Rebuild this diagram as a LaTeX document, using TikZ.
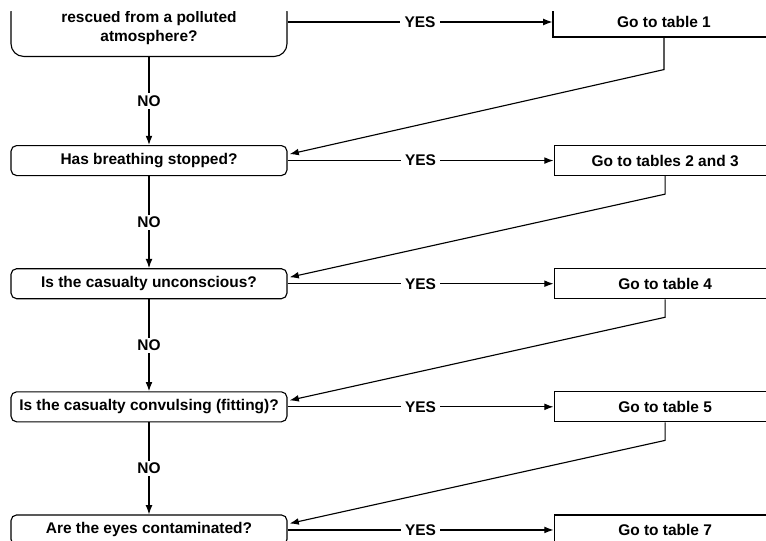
\documentclass[tikz,border=0pt]{standalone}
\usepackage{fontspec}
\setmainfont{Liberation Sans}
\usetikzlibrary{arrows.meta, positioning}

\begin{document}
\begin{tikzpicture}[
    node distance=2.3cm and 6.65cm,
    font=\fontsize{11}{13.5}\selectfont\bfseries,
    line width=0.8pt,
    qbox/.style={draw, rounded corners=4pt, minimum width=6.9cm, minimum height=0.75cm, align=center, inner sep=2pt},
    gobox/.style={draw, minimum width=5.55cm, minimum height=0.75cm, align=center},
    lbl/.style={fill=white, inner xsep=3pt, inner ysep=1.5pt},
    arr/.style={-{Latex[length=2.3mm, width=1.7mm]}}
]
\useasboundingbox (0,0) rectangle (19.15,-13.5);
\clip (0,-0.28) rectangle (19.15,-13.5);

\node[qbox, rounded corners=9pt, anchor=south, inner ysep=0.3cm] (atmos) at (3.725,-1.425) {rescued from a polluted\\atmosphere?};
\node[gobox] (tab1) at (16.6,-0.55) {Go to table 1};
\node[qbox, below=2.2cm of atmos] (breath) {Has breathing stopped?};
\node[gobox, right=of breath] (tab23) {Go to tables 2 and 3};
\node[qbox, below=of breath] (uncon) {Is the casualty unconscious?};
\node[gobox, right=of uncon] (tab4) {Go to table 4};
\node[qbox, below=of uncon] (convul) {Is the casualty convulsing (fitting)?};
\node[gobox, right=of convul] (tab5) {Go to table 5};
\node[qbox, below=of convul] (eyes) {Are the eyes contaminated?};
\node[gobox, right=of eyes] (tab7) {Go to table 7};

\draw[arr] (atmos) -- node[lbl] {NO} (breath);
\draw[arr] (breath) -- node[lbl] {NO} (uncon);
\draw[arr] (uncon) -- node[lbl] {NO} (convul);
\draw[arr] (convul) -- node[lbl] {NO} (eyes);

\draw[arr] (atmos.east |- tab1) -- node[lbl] {YES} (tab1);
\draw[arr] (breath) -- node[lbl] {YES} (tab23);
\draw[arr] (uncon) -- node[lbl] {YES} (tab4);
\draw[arr] (convul) -- node[lbl] {YES} (tab5);
\draw[arr] (eyes) -- node[lbl] {YES} (tab7);

\draw[arr, shorten >=1.5pt] (tab1.south) -- ++(0,-0.8) -- ([yshift=0.15cm]breath.east);
\draw[arr, shorten >=1.5pt] (tab23.south) -- ++(0,-0.45) -- ([yshift=0.15cm]uncon.east);
\draw[arr, shorten >=1.5pt] (tab4.south) -- ++(0,-0.45) -- ([yshift=0.15cm]convul.east);
\draw[arr, shorten >=1.5pt] (tab5.south) -- ++(0,-0.45) -- ([yshift=0.15cm]eyes.east);
\end{tikzpicture}
\end{document}
